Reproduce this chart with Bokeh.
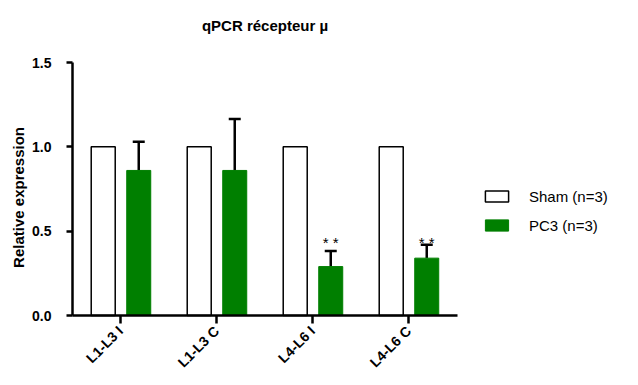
import math
from bokeh.plotting import figure
from bokeh.models import (ColumnDataSource, FixedTicker, Legend, LegendItem, Whisker, Label)
from bokeh.core.properties import value
from bokeh.embed import file_html
from bokeh.resources import INLINE

categories = ["L1-L3 I", "L1-L3 C", "L4-L6 I", "L4-L6 C"]
sham_values = [1.0, 1.0, 1.0, 1.0]
pc3_values = [0.86, 0.86, 0.29, 0.34]
pc3_err = [0.17, 0.305, 0.093, 0.08]
sig_labels = ["", "", "* *", "* *"]
y_ticks = [0.0, 0.5, 1.0, 1.5]
y_tick_labels = ["0.0", "0.5", "1.0", "1.5"]
title_text = "qPCR récepteur µ"
y_label_text = "Relative expression"
legend_labels = ["Sham (n=3)", "PC3 (n=3)"]

xs = list(range(len(categories)))
bw = 0.25
FONT = "Liberation Sans"

# geometry (pixels)
W, H = 620, 369
X0_PX, X_PX = 120.0, 96.0          # pixel of first category, px per category
Y0_PX, Y15_PX = 315.0, 62.0        # pixel rows of y=0 and y=1.5
Y_PX = (Y0_PX - Y15_PX) / 1.5
x_start, x_end = -X0_PX / X_PX, (W - X0_PX) / X_PX
y_start, y_end = -(H - Y0_PX) / Y_PX, 1.5 + Y15_PX / Y_PX
ax_x0, ax_x1 = -0.5, 3.51
ax_y0, ax_y1 = 0.0, 1.5

src = ColumnDataSource(dict(
    x=xs,
    xs=[x - 0.18 for x in xs],
    xp=[x + 0.19 for x in xs],
    sham=sham_values,
    pc3=pc3_values,
    upper=[v + e for v, e in zip(pc3_values, pc3_err)],
    sig=sig_labels,
    sig_y=[0.43 if s else 0 for s in sig_labels],
))

p = figure(width=W, height=H, output_backend="svg", toolbar_location=None,
           x_range=(x_start, x_end), y_range=(y_start, y_end),
           min_border=0)
p.outline_line_color = None
p.grid.visible = False
p.background_fill_color = "white"

r_sham = p.vbar(x="xs", top="sham", width=bw, source=src, fill_color="white",
                line_color="black", line_width=1.5)
r_pc3 = p.vbar(x="xp", top="pc3", width=bw, source=src, fill_color="#007f00",
               line_color="#007f00")

w = Whisker(base="xp", lower="pc3", upper="upper", source=src,
            line_color="black", line_width=2.5, lower_head=None)
w.upper_head.line_color = "black"
w.upper_head.line_width = 2.5
w.upper_head.size = 12
p.add_layout(w)

p.text(x="xp", y="sig_y", text="sig", source=src, text_align="center",
       text_baseline="middle", text_font=value(FONT), text_font_size="15px",
       text_color="black")

# title and y-axis label as text in the plot
p.add_layout(Label(x=(ax_x0 + ax_x1) / 2, y=ax_y1 + 37 / Y_PX, text=title_text,
                   text_font=FONT, text_font_size="15px", text_font_style="bold",
                   text_color="black", text_align="center", text_baseline="middle"))
p.add_layout(Label(x=ax_x0 - 54 / X_PX, y=0.70, text=y_label_text, angle=math.pi / 2,
                   text_font=FONT, text_font_size="15px", text_font_style="bold",
                   text_color="black", text_align="center", text_baseline="middle"))

# axes
p.xaxis.fixed_location = 0
p.xaxis.bounds = (ax_x0, ax_x1)
p.xaxis.ticker = FixedTicker(ticks=xs)
p.xaxis.major_label_overrides = {i: c for i, c in enumerate(categories)}
p.xaxis.major_label_orientation = 0.785
p.xaxis.major_tick_out = 8
p.xaxis.major_tick_in = 0
p.xaxis.minor_tick_line_color = None
p.xaxis.axis_line_width = 2.5
p.xaxis.major_tick_line_width = 2.5
p.xaxis.major_label_text_font = FONT
p.xaxis.major_label_text_font_style = "bold"
p.xaxis.major_label_text_font_size = "14px"
p.xaxis.major_label_text_color = "black"

p.yaxis.fixed_location = ax_x0
p.yaxis.bounds = (ax_y0, ax_y1)
p.yaxis.ticker = FixedTicker(ticks=y_ticks)
p.yaxis.major_label_overrides = {t: l for t, l in zip(y_ticks, y_tick_labels)}
p.yaxis.major_tick_out = 6
p.yaxis.major_tick_in = 0
p.yaxis.minor_tick_line_color = None
p.yaxis.axis_line_width = 2.5
p.yaxis.major_tick_line_width = 2.5
p.yaxis.major_label_text_font = FONT
p.yaxis.major_label_text_font_style = "bold"
p.yaxis.major_label_text_font_size = "14px"
p.yaxis.major_label_text_color = "black"
p.yaxis.major_label_standoff = 15

legend = Legend(items=[LegendItem(label=legend_labels[0], renderers=[r_sham]),
                       LegendItem(label=legend_labels[1], renderers=[r_pc3])],
                location=(482, 134), border_line_color=None,
                background_fill_alpha=0, glyph_width=29, glyph_height=14,
                label_height=20, label_text_font=FONT,
                label_text_font_size="15px", label_text_color="black",
                spacing=9, label_standoff=18, padding=10, margin=0)
p.add_layout(legend)

open("out.html", "w").write(file_html(p, INLINE))
